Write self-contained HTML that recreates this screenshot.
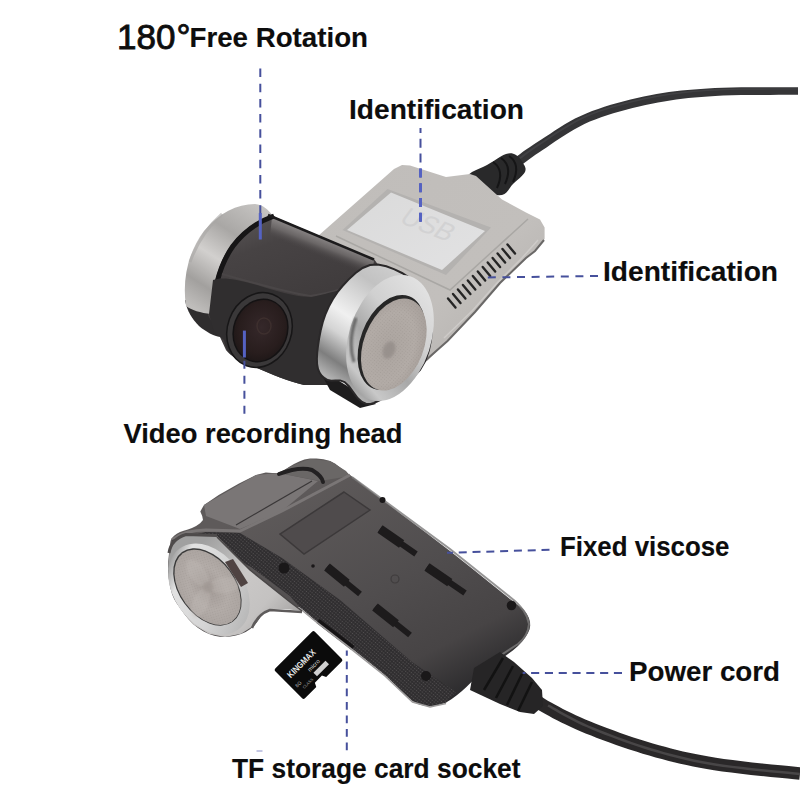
<!DOCTYPE html>
<html><head><meta charset="utf-8">
<style>
html,body{margin:0;padding:0;background:#fff;}
body{width:800px;height:800px;overflow:hidden;position:relative;}
svg{position:absolute;left:0;top:0;}
text{font-family:"Liberation Sans",sans-serif;fill:#0d0d0d;}
</style></head><body>
<svg width="800" height="800" viewBox="0 0 800 800">
<defs>
  <linearGradient id="gSilver" x1="0" y1="0" x2="1" y2="1">
    <stop offset="0" stop-color="#c0bdba"/><stop offset="0.6" stop-color="#c2bfbc"/><stop offset="1" stop-color="#b0adaa"/>
  </linearGradient>
  <linearGradient id="gLabel" x1="0" y1="0" x2="1" y2="1">
    <stop offset="0" stop-color="#dadada"/><stop offset="1" stop-color="#e2e2e3"/>
  </linearGradient>
  <linearGradient id="gChromeL" gradientUnits="userSpaceOnUse" x1="255" y1="205" x2="190" y2="305">
    <stop offset="0" stop-color="#c4c2c0"/><stop offset="0.3" stop-color="#a9a7a5"/><stop offset="0.55" stop-color="#d2d0ce"/><stop offset="0.8" stop-color="#a2a09e"/><stop offset="1" stop-color="#bfbdbb"/>
  </linearGradient>
  <linearGradient id="gBarrel" gradientUnits="userSpaceOnUse" x1="270" y1="215" x2="300" y2="300">
    <stop offset="0" stop-color="#555152"/><stop offset="0.3" stop-color="#474344"/><stop offset="1" stop-color="#403c3d"/>
  </linearGradient>
  <radialGradient id="gLens" cx="0.5" cy="0.45" r="0.6">
    <stop offset="0" stop-color="#35282a"/><stop offset="0.7" stop-color="#281d1d"/><stop offset="1" stop-color="#1c1616"/>
  </radialGradient>
  <linearGradient id="gChromeR" gradientUnits="userSpaceOnUse" x1="400" y1="268" x2="322" y2="382">
    <stop offset="0" stop-color="#cfcfcf"/><stop offset="0.2" stop-color="#c2c2c2"/><stop offset="0.5" stop-color="#f0f0f0"/><stop offset="0.64" stop-color="#d4d4d4"/><stop offset="0.82" stop-color="#7e7e7e"/><stop offset="0.95" stop-color="#b4b4b4"/><stop offset="1" stop-color="#9a9a9a"/>
  </linearGradient>
  <linearGradient id="gBezel" gradientUnits="userSpaceOnUse" x1="420" y1="285" x2="355" y2="395">
    <stop offset="0" stop-color="#e2e2e2"/><stop offset="0.35" stop-color="#d0d0d0"/><stop offset="0.6" stop-color="#a8a8a8"/><stop offset="0.85" stop-color="#c8c8c8"/><stop offset="1" stop-color="#8c8c8c"/>
  </linearGradient>
  <radialGradient id="gDisc" cx="0.45" cy="0.55" r="0.65">
    <stop offset="0" stop-color="#aca5a0"/><stop offset="0.6" stop-color="#b3aca7"/><stop offset="1" stop-color="#a39b96"/>
  </radialGradient>
  <linearGradient id="gLow" gradientUnits="userSpaceOnUse" x1="330" y1="470" x2="450" y2="700">
    <stop offset="0" stop-color="#5e5a5a"/><stop offset="0.5" stop-color="#504d4e"/><stop offset="0.8" stop-color="#474445"/><stop offset="1" stop-color="#2c2b2d"/>
  </linearGradient>
  <linearGradient id="gChromeLow" gradientUnits="userSpaceOnUse" x1="200" y1="545" x2="285" y2="625">
    <stop offset="0" stop-color="#a0a0a0"/><stop offset="0.45" stop-color="#cac8c7"/><stop offset="0.75" stop-color="#c4c2c1"/><stop offset="1" stop-color="#a8a6a5"/>
  </linearGradient>
  <linearGradient id="gBezelLow" gradientUnits="userSpaceOnUse" x1="180" y1="545" x2="235" y2="635">
    <stop offset="0" stop-color="#8a8a8a"/><stop offset="0.2" stop-color="#e2e2e2"/><stop offset="0.6" stop-color="#d4d4d4"/><stop offset="1" stop-color="#b4b4b4"/>
  </linearGradient>
  <radialGradient id="gDiscLow" cx="0.5" cy="0.5" r="0.6">
    <stop offset="0" stop-color="#a19995"/><stop offset="0.5" stop-color="#b3aca8"/><stop offset="1" stop-color="#a9a29e"/>
  </radialGradient>
  <pattern id="dots" width="2.6" height="2.6" patternUnits="userSpaceOnUse" patternTransform="rotate(40)">
    <circle cx="1.3" cy="1.3" r="0.7" fill="#545152"/>
  </pattern>
  <pattern id="brush" width="3" height="3" patternUnits="userSpaceOnUse" patternTransform="rotate(30)">
    <rect width="3" height="1.2" fill="#c8c2bd"/>
  </pattern>
  <filter id="blur2" x="-20%" y="-20%" width="140%" height="140%"><feGaussianBlur stdDeviation="2"/></filter>
  <filter id="blur1" x="-30%" y="-30%" width="160%" height="160%"><feGaussianBlur stdDeviation="1"/></filter>
  <pattern id="mesh" width="2.5" height="2.5" patternUnits="userSpaceOnUse" patternTransform="rotate(20)">
    <circle cx="1.25" cy="1.25" r="0.6" fill="#8d8681"/>
  </pattern>
  <linearGradient id="gBarrelHi" gradientUnits="userSpaceOnUse" x1="325" y1="238" x2="318" y2="256">
    <stop offset="0" stop-color="#8a8686"/><stop offset="0.45" stop-color="#6a6666"/><stop offset="1" stop-color="#474344" stop-opacity="0"/>
  </linearGradient>
</defs>
<path d="M515.0,170.0 L516.5,168.8 L518.5,167.4 L520.7,165.7 L523.2,163.8 L525.9,161.7 L528.9,159.5 L532.0,157.2 L535.4,154.8 L538.9,152.4 L542.6,150.0 L546.5,147.4 L550.7,144.6 L555.0,141.6 L559.6,138.6 L564.3,135.5 L569.1,132.5 L574.1,129.5 L579.2,126.7 L584.4,124.1 L589.8,121.6 L595.3,119.4 L601.1,117.3 L607.1,115.2 L613.3,113.3 L619.7,111.4 L626.1,109.7 L632.6,108.0 L639.1,106.5 L645.5,105.0 L651.8,103.7 L658.0,102.5 L664.1,101.4 L670.1,100.4 L676.2,99.5 L682.2,98.8 L688.4,98.1 L694.7,97.5 L701.3,97.0 L708.1,96.5 L715.2,96.0 L723.1,95.6 L731.8,95.3 L741.2,95.1 L750.8,95.0 L760.5,94.9 L769.9,94.9 L778.6,94.8 L786.4,94.8 L793.0,94.8 L798.0,94.7 L798.0,87.3 L793.0,87.3 L786.4,87.2 L778.6,87.2 L769.9,87.2 L760.5,87.2 L750.8,87.2 L741.1,87.3 L731.6,87.4 L722.8,87.7 L714.8,88.0 L707.6,88.4 L700.7,88.9 L694.0,89.4 L687.6,89.9 L681.3,90.6 L675.1,91.3 L668.9,92.1 L662.7,93.1 L656.5,94.1 L650.2,95.3 L643.7,96.6 L637.1,98.1 L630.5,99.6 L623.9,101.2 L617.3,103.0 L610.8,104.8 L604.4,106.8 L598.2,108.9 L592.1,111.0 L586.2,113.4 L580.6,115.9 L575.0,118.6 L569.6,121.6 L564.4,124.6 L559.3,127.7 L554.5,130.8 L549.9,133.9 L545.5,136.8 L541.3,139.5 L537.4,142.0 L533.6,144.5 L530.0,146.9 L526.5,149.3 L523.2,151.6 L520.1,153.9 L517.3,155.9 L514.7,157.8 L512.5,159.5 L510.6,160.9 L509.0,162.0 Z" fill="#353537"/>
<path d="M515.6,162.8 L517.0,161.8 L518.6,160.5 L520.5,159.0 L522.7,157.4 L525.1,155.5 L527.7,153.6 L530.6,151.5 L533.7,149.3 L537.0,147.1 L540.5,144.8 L544.3,142.3 L548.4,139.6 L552.7,136.6 L557.3,133.6 L562.1,130.5 L567.1,127.4 L572.2,124.4 L577.5,121.5 L582.9,118.7 L588.3,116.3 L594.0,114.0 L599.9,111.8 L606.0,109.8 L612.3,107.8 L618.7,106.0 L625.2,104.2 L631.7,102.6 L638.3,101.0 L644.8,99.6 L651.1,98.2 L657.4,97.0 L663.6,96.0 L669.6,95.0 L675.7,94.2 L681.8,93.4 L688.1,92.7 L694.4,92.1 L701.0,91.6 L707.9,91.1 L715.0,90.7 L722.9,90.3 L731.7,90.0 L741.1,89.8 L750.8,89.7 L760.5,89.7 L769.9,89.6 L778.6,89.6 L786.4,89.6 L793.0,89.6 L798.0,89.6 L798.0,88.4 L793.0,88.4 L786.4,88.4 L778.6,88.4 L769.9,88.4 L760.5,88.4 L750.8,88.4 L741.1,88.5 L731.7,88.7 L722.9,89.0 L715.0,89.3 L707.8,89.8 L700.9,90.2 L694.3,90.7 L687.9,91.3 L681.7,92.0 L675.5,92.7 L669.4,93.5 L663.3,94.5 L657.1,95.6 L650.9,96.8 L644.4,98.1 L637.9,99.5 L631.4,101.0 L624.8,102.7 L618.3,104.4 L611.8,106.3 L605.5,108.2 L599.4,110.3 L593.4,112.5 L587.7,114.7 L582.1,117.2 L576.7,119.9 L571.3,122.9 L566.2,125.9 L561.2,129.0 L556.3,132.1 L551.7,135.1 L547.4,138.1 L543.3,140.8 L539.5,143.2 L535.9,145.5 L532.6,147.8 L529.5,150.0 L526.6,152.1 L523.9,154.0 L521.5,155.8 L519.3,157.5 L517.4,158.9 L515.8,160.2 L514.4,161.2 Z" fill="#4a4a4d" opacity="0.6"/>
<path d="M468.0,176.0 L469.4,174.0 L472.0,172.1 L475.6,170.3 L479.5,168.6 L483.5,166.8 L487.0,165.0 L490.3,163.0 L493.7,160.9 L497.1,158.8 L500.3,156.8 L503.4,155.1 L506.0,154.0 L508.2,153.4 L510.1,153.2 L511.8,153.3 L513.2,153.7 L514.6,154.3 L516.0,155.0 L517.4,155.9 L518.7,157.1 L520.0,158.5 L521.1,160.0 L522.2,161.5 L523.0,163.0 L523.8,164.4 L524.6,165.8 L525.2,167.2 L525.6,168.7 L525.5,170.3 L525.0,172.0 L523.8,173.8 L522.0,175.8 L519.8,177.9 L517.4,180.0 L515.1,182.0 L513.0,184.0 L511.2,186.1 L509.7,188.3 L508.1,190.6 L506.4,192.6 L504.5,194.1 L502.0,195.0 L498.9,195.2 L495.1,194.9 L491.1,194.1 L487.0,192.9 L483.2,191.5 L480.0,190.0 L477.1,188.2 L474.1,185.9 L471.4,183.4 L469.3,180.8 L468.1,178.3 L468.0,176.0 Z" fill="#29292a"/>
<path d="M493,162 Q505,170 497,188" stroke="#151516" stroke-width="2" fill="none"/>
<path d="M501,158 Q513,166 505,184" stroke="#151516" stroke-width="2" fill="none"/>
<path d="M509,156 Q521,164 513,182" stroke="#151516" stroke-width="2" fill="none"/>
<path d="M318.0,236.0 L394.0,169.0 L402.0,165.0 L410.0,165.5 L446.0,177.0 L470.0,174.0 L476.0,176.0 L502.0,199.5 L526.0,212.5 L540.0,219.5 L544.6,227.6 L544.6,239.0 L535.0,251.0 L526.0,258.0 L500.0,283.0 L475.0,312.0 L447.5,341.0 L427.0,361.0 L400.0,368.0 L330.0,300.0 Z" fill="url(#gSilver)"/>
<path d="M544,240 L535,251 L526,258 L500,283 L475,312 L447.5,341 L426,360" stroke="#6a6867" stroke-width="2" fill="none"/>
<path d="M538,240 L522,258 L497,283 L472,311 L444,338" stroke="#d8d6d4" stroke-width="1.5" fill="none" opacity="0.6"/>
<path d="M336,236 L450,290 L528,219" stroke="#a9a7a4" stroke-width="1.5" fill="none"/>
<path d="M387.5,189.0 L491.0,227.5 L446.0,275.0 L342.5,230.0 Z" fill="#b4b2b0"/>
<path d="M391.0,192.5 L485.0,231.0 L442.0,270.0 L347.0,230.0 Z" fill="url(#gLabel)"/>
<text x="0" y="0" transform="translate(398,222) rotate(22) skewX(-15)" style="font-family:'Liberation Sans',sans-serif;font-size:26px;fill:#d2d2d3">USB</text>
<line x1="448.0" y1="298.5" x2="455.5" y2="307.5" stroke="#252525" stroke-width="2.4" stroke-linecap="round"/>
<line x1="453.0" y1="294.0" x2="460.5" y2="303.0" stroke="#252525" stroke-width="2.4" stroke-linecap="round"/>
<line x1="457.9" y1="289.5" x2="465.4" y2="298.5" stroke="#252525" stroke-width="2.4" stroke-linecap="round"/>
<line x1="462.9" y1="285.0" x2="470.4" y2="294.0" stroke="#252525" stroke-width="2.4" stroke-linecap="round"/>
<line x1="467.8" y1="280.5" x2="475.3" y2="289.5" stroke="#252525" stroke-width="2.4" stroke-linecap="round"/>
<line x1="472.8" y1="276.0" x2="480.3" y2="285.0" stroke="#252525" stroke-width="2.4" stroke-linecap="round"/>
<line x1="477.8" y1="271.5" x2="485.2" y2="280.5" stroke="#252525" stroke-width="2.4" stroke-linecap="round"/>
<line x1="482.7" y1="267.0" x2="490.2" y2="276.0" stroke="#252525" stroke-width="2.4" stroke-linecap="round"/>
<line x1="487.7" y1="262.5" x2="495.2" y2="271.5" stroke="#252525" stroke-width="2.4" stroke-linecap="round"/>
<line x1="492.6" y1="258.0" x2="500.1" y2="267.0" stroke="#252525" stroke-width="2.4" stroke-linecap="round"/>
<line x1="497.6" y1="253.5" x2="505.1" y2="262.5" stroke="#252525" stroke-width="2.4" stroke-linecap="round"/>
<line x1="502.5" y1="249.0" x2="510.0" y2="258.0" stroke="#252525" stroke-width="2.4" stroke-linecap="round"/>
<line x1="507.5" y1="244.5" x2="515.0" y2="253.5" stroke="#252525" stroke-width="2.4" stroke-linecap="round"/>
<path d="M185,300 L212,306 L220,337 C214,336 206,332 199,326 C192,319 187,311 185,300 Z" fill="#2f2d2e"/>
<path d="M264,209 L276,217.5 L374,259 L396,290 L330,385 L304,385 C285,381 262,370 240,361 C232,356 227,352 226,350 L220,337 L208,315 C207,290 212,262 232,240 C243,228 252,216 264,209 Z" fill="url(#gBarrel)"/>
<path d="M272,217 L374,259.5 L372,278 L270,236 Z" fill="url(#gBarrelHi)"/>
<path d="M186,306 C182,280 188,252 204,231 C219,213 237,204 255,204 C263,205 268,209 272,215 C255,221 241,232 231,245 C219,262 212,284 211,314 C201,313 191,310 186,306 Z" fill="url(#gChromeL)"/>
<path d="M274,216 C257,222 243,233 233,246 C221,263 214,285 213,314" stroke="#161516" stroke-width="5" fill="none"/>
<path d="M268,215 L374,259.5" stroke="#1c1b1c" stroke-width="2.5" fill="none"/>
<path d="M190,262 C196,245 206,228 222,214" stroke="#a9a7a5" stroke-width="3" fill="none" opacity="0.6"/>
<path d="M222,274 C250,282 285,292 310,296 C325,294 338,290 348,287" stroke="#4a4647" stroke-width="2" fill="none"/>
<path d="M213,280 C222,276 240,280 260,286 C285,294 300,297 312,297 C330,293 340,290 350,287 L330,385 L304,385 C285,381 262,370 240,361 C230,356 226,350 224,340 L214,332 L209,314 Z" fill="#302e2f"/>
<ellipse cx="259.5" cy="330" rx="32" ry="38" transform="rotate(20 259.5 330)" fill="#3a3839" stroke="#171617" stroke-width="1.5"/>
<ellipse cx="260.5" cy="330.5" rx="27.5" ry="32.5" transform="rotate(20 260.5 330.5)" fill="#141213"/>
<ellipse cx="260.5" cy="330.5" rx="26" ry="31" transform="rotate(20 260.5 330.5)" fill="url(#gLens)"/>
<ellipse cx="264" cy="326" rx="7" ry="8" fill="none" stroke="#4a3a36" stroke-width="1.5" opacity="0.5"/>
<path d="M318.0,368.0 L330.0,390.0 L360.0,408.0 L376.0,404.0 L344.0,384.0 Z" fill="#1d1c1d"/>
<path d="M402.0,273.0 L394.5,269.3 L386.3,266.3 L377.9,264.6 L370.0,265.0 L362.6,268.0 L355.3,273.2 L348.5,279.6 L342.5,286.0 L337.3,292.4 L332.8,299.3 L328.8,306.6 L325.5,314.0 L322.8,321.9 L320.7,330.3 L319.1,338.5 L318.0,346.0 L317.2,352.7 L316.9,358.8 L317.1,364.3 L318.0,369.0 L319.6,372.8 L321.7,375.8 L324.5,378.2 L327.6,380.0 L331.3,380.7 L335.6,380.4 L340.1,380.4 L344.6,382.0 L348.9,386.2 L353.2,392.2 L357.6,398.1 L362.0,402.0 L365.9,403.7 L369.6,404.1 L373.9,403.0 L380.0,400.0 L389.1,394.7 L400.4,387.4 L411.5,378.9 L420.0,370.0 L425.4,360.6 L428.9,350.3 L431.0,339.9 L432.0,330.0 L432.0,320.6 L430.7,311.4 L428.3,302.7 L425.0,295.0 L420.6,288.3 L415.1,282.3 L408.8,277.2 L402.0,273.0 Z" fill="url(#gChromeR)" stroke="#2a2829" stroke-width="2"/>
<ellipse cx="390" cy="338" rx="41" ry="65" transform="rotate(18 390 338)" fill="url(#gBezel)"/>
<path d="M356,318 C350,335 350,350 354,362" stroke="#505050" stroke-width="3" fill="none" opacity="0.8" filter="url(#blur1)"/>
<ellipse cx="391.5" cy="342.5" rx="31" ry="49.5" transform="rotate(21 391.5 342.5)" fill="#262626"/>
<ellipse cx="393.8" cy="344.5" rx="30" ry="48" transform="rotate(21 393.8 344.5)" fill="url(#gDisc)"/>
<ellipse cx="393.8" cy="344.5" rx="30" ry="48" transform="rotate(21 393.8 344.5)" fill="url(#mesh)" opacity="0.35"/>
<ellipse cx="389" cy="350" rx="6" ry="9" transform="rotate(21 389 350)" fill="#948d89" opacity="0.8" filter="url(#blur1)"/>
<path d="M516.2,694.3 L517.5,695.2 L519.2,696.5 L521.1,698.0 L523.4,699.7 L526.0,701.6 L528.7,703.7 L531.7,705.8 L534.9,707.9 L538.3,710.0 L541.8,712.1 L545.4,714.1 L549.1,716.1 L552.9,718.2 L557.0,720.3 L561.3,722.5 L565.7,724.6 L570.4,726.8 L575.2,729.0 L580.3,731.2 L585.6,733.4 L591.1,735.6 L597.0,737.9 L603.2,740.2 L609.5,742.6 L616.1,744.9 L622.7,747.2 L629.4,749.5 L636.1,751.6 L642.7,753.7 L649.2,755.6 L655.6,757.4 L661.8,759.1 L667.9,760.7 L674.0,762.2 L680.2,763.7 L686.5,765.1 L693.0,766.4 L699.7,767.7 L706.7,769.0 L714.0,770.2 L722.2,771.4 L731.2,772.6 L740.9,773.8 L750.9,774.9 L760.9,775.9 L770.5,776.9 L779.5,777.7 L787.5,778.5 L794.2,779.2 L799.3,779.7 L800.7,767.3 L795.5,766.7 L788.7,766.1 L780.7,765.3 L771.7,764.4 L762.1,763.4 L752.2,762.4 L742.4,761.3 L732.8,760.1 L723.9,759.0 L716.0,757.8 L708.8,756.6 L702.0,755.3 L695.5,754.1 L689.2,752.7 L683.0,751.4 L677.0,749.9 L671.0,748.4 L665.0,746.8 L659.0,745.2 L652.8,743.4 L646.4,741.5 L639.9,739.5 L633.4,737.4 L626.8,735.2 L620.3,732.9 L613.9,730.6 L607.6,728.3 L601.6,726.0 L595.8,723.7 L590.4,721.6 L585.3,719.4 L580.4,717.3 L575.8,715.2 L571.3,713.1 L567.0,711.0 L562.9,708.9 L559.0,706.8 L555.2,704.8 L551.6,702.8 L548.2,700.9 L545.0,699.0 L542.0,697.1 L539.1,695.1 L536.3,693.2 L533.7,691.2 L531.3,689.4 L529.0,687.7 L527.1,686.2 L525.3,684.8 L523.8,683.7 Z" fill="#2a2829"/>
<path d="M547.4,706.6 L549.7,707.8 L552.5,709.4 L555.7,711.3 L559.4,713.4 L563.5,715.7 L567.8,718.0 L572.5,720.5 L577.3,723.0 L582.4,725.4 L587.5,727.6 L592.9,729.9 L598.6,732.3 L604.7,734.7 L611.1,737.1 L617.6,739.5 L624.2,742.0 L630.9,744.3 L637.6,746.6 L644.2,748.7 L650.6,750.7 L656.9,752.5 L663.1,754.3 L669.1,756.0 L675.2,757.6 L681.3,759.1 L687.6,760.5 L694.0,761.9 L700.6,763.2 L707.5,764.5 L714.8,765.7 L722.9,767.0 L731.9,768.1 L741.5,769.3 L751.4,770.4 L761.4,771.4 L771.0,772.4 L780.0,773.3 L788.0,774.0 L794.7,774.7 L799.9,775.2 L800.1,772.8 L795.0,772.2 L788.2,771.6 L780.2,770.8 L771.2,769.9 L761.6,768.9 L751.7,767.9 L741.8,766.8 L732.2,765.7 L723.2,764.5 L715.2,763.3 L708.0,762.0 L701.1,760.8 L694.5,759.4 L688.1,758.1 L681.9,756.6 L675.8,755.1 L669.8,753.6 L663.7,751.9 L657.6,750.1 L651.4,748.3 L644.9,746.3 L638.4,744.2 L631.7,741.9 L625.0,739.6 L618.4,737.2 L611.9,734.8 L605.6,732.3 L599.6,729.9 L593.8,727.6 L588.5,725.4 L583.4,723.1 L578.4,720.7 L573.6,718.3 L569.0,715.8 L564.7,713.5 L560.6,711.2 L557.0,709.1 L553.7,707.2 L550.9,705.6 L548.6,704.4 Z" fill="#555354" opacity="0.7"/>
<path d="M170.0,546.0 L169.1,552.8 L168.2,561.4 L168.0,570.0 L168.7,578.4 L170.1,586.7 L172.0,594.0 L174.2,599.3 L176.8,603.6 L180.0,608.0 L183.9,613.4 L188.3,619.0 L193.0,624.0 L198.1,628.0 L203.6,631.4 L209.0,634.0 L214.3,635.7 L219.7,636.7 L225.0,637.0 L230.4,636.6 L235.9,635.6 L241.0,634.0 L245.7,631.9 L250.0,629.2 L254.0,626.0 L257.4,621.7 L260.6,616.9 L264.0,613.0 L267.7,610.6 L271.8,609.0 L277.0,608.0 L284.2,607.0 L292.6,606.5 L300.0,607.5 L304.9,610.2 L308.8,614.3 L315.0,620.0 L325.2,627.9 L337.6,637.4 L350.0,647.0 L361.9,656.3 L373.9,665.8 L385.0,675.0 L395.1,684.6 L404.4,694.0 L412.5,701.0 L419.1,704.5 L424.6,705.7 L430.0,706.0 L435.4,705.8 L440.7,704.6 L446.0,702.5 L451.4,699.3 L456.8,695.2 L462.0,691.0 L466.4,687.0 L470.7,682.8 L476.0,678.0 L483.5,672.2 L492.1,665.9 L500.0,660.0 L506.7,655.0 L512.8,650.4 L518.0,646.0 L522.2,641.5 L525.6,637.1 L528.0,633.0 L529.6,629.2 L530.2,625.7 L530.0,622.0 L528.9,618.0 L526.9,614.0 L524.0,610.0 L521.6,607.6 L518.4,605.4 L510.0,599.0 L493.8,585.9 L472.4,568.7 L450.0,551.0 L426.1,532.7 L401.0,513.9 L380.0,498.0 L365.3,486.8 L354.7,478.6 L346.0,472.0 L339.5,466.9 L335.0,463.5 L330.0,461.0 L323.5,459.2 L316.5,458.4 L310.0,458.5 L304.4,459.6 L299.2,461.6 L294.0,464.0 L288.9,467.0 L283.8,470.4 L278.0,473.0 L272.2,473.1 L265.8,472.5 L256.0,475.0 L239.0,483.5 L218.7,495.1 L204.0,505.0 L200.3,511.4 L202.2,516.1 L203.0,520.0 L200.1,523.3 L196.1,525.9 L192.0,528.0 L187.9,529.6 L183.7,530.7 L180.0,532.0 L176.8,533.8 L174.1,535.8 L172.0,538.0 L170.9,539.9 L170.4,542.1 L170.0,546.0 Z" fill="url(#gLow)"/>
<path d="M352,477 L450,549 L510,597 Q527,610 529,624 Q528,636 518,644 L498,657" stroke="#7c7a7a" stroke-width="2" fill="none" opacity="0.8"/>
<path d="M204.0,505.0 L256.0,475.0 L279.0,473.0 L318.0,481.0 L282.0,511.0 L240.0,529.0 L206.0,516.0 Z" fill="#7a7676"/>
<path d="M278.0,473.0 L294.0,465.0 L310.0,459.0 L330.0,461.0 L346.0,471.0 L350.0,476.0 L320.0,481.0 Z" fill="#6a6766"/>
<path d="M279,474 Q300,466 312,470 Q322,476 323,482" stroke="#232122" stroke-width="4" fill="none" stroke-linecap="round"/>
<path d="M236,525 L312,481" stroke="#3a3738" stroke-width="1.2" fill="none"/>
<path d="M172,540 Q185,530 206,530 L240,531 L282,511 L350,475" stroke="#7a7676" stroke-width="3" fill="none"/>
<path d="M344.0,492.0 L370.0,510.0 L304.0,554.0 L280.0,534.0 Z" fill="#4f4b4c" stroke="#3c393a" stroke-width="1.5"/>
<path d="M172.0,540.0 L206.0,532.0 L240.0,533.0 L282.0,558.0 L340.0,600.0 L412.0,662.0 L456.0,692.0 L446.0,702.5 L430.0,706.0 L412.5,701.0 L385.0,675.0 L350.0,647.0 L315.0,620.0 L300.0,607.5 L290.0,596.0 L251.0,567.0 L213.6,547.6 L176.0,553.0 Z" fill="#2f2d2f"/>
<path d="M172.0,540.0 L206.0,532.0 L240.0,533.0 L282.0,558.0 L340.0,600.0 L412.0,662.0 L456.0,692.0 L446.0,702.5 L430.0,706.0 L412.5,701.0 L385.0,675.0 L350.0,647.0 L315.0,620.0 L300.0,607.5 L290.0,596.0 L251.0,567.0 L213.6,547.6 L176.0,553.0 Z" fill="url(#dots)"/>
<line x1="380" y1="529" x2="416" y2="554" stroke="#1d1b1c" stroke-width="6" stroke-linecap="butt"/>
<line x1="380" y1="529" x2="401.6" y2="544.0" stroke="#1d1b1c" stroke-width="9" stroke-linecap="butt"/>
<line x1="427" y1="567" x2="465" y2="593" stroke="#1d1b1c" stroke-width="6" stroke-linecap="butt"/>
<line x1="427" y1="567" x2="449.8" y2="582.6" stroke="#1d1b1c" stroke-width="9" stroke-linecap="butt"/>
<line x1="375" y1="607" x2="410" y2="635" stroke="#1d1b1c" stroke-width="6" stroke-linecap="butt"/>
<line x1="375" y1="607" x2="396.0" y2="623.8" stroke="#1d1b1c" stroke-width="9" stroke-linecap="butt"/>
<line x1="327" y1="567" x2="360" y2="594" stroke="#1d1b1c" stroke-width="6" stroke-linecap="butt"/>
<line x1="327" y1="567" x2="346.8" y2="583.2" stroke="#1d1b1c" stroke-width="9" stroke-linecap="butt"/>
<circle cx="395" cy="579" r="4" fill="none" stroke="#3f3c3d" stroke-width="1.2"/>
<circle cx="382.5" cy="500" r="3" fill="#1a1819"/>
<circle cx="511.5" cy="605.5" r="4.8" fill="#1a1819"/>
<circle cx="426" cy="676" r="5" fill="#1a1819"/>
<circle cx="284" cy="568" r="5.5" fill="#1a1819"/>
<circle cx="313" cy="566" r="1.8" fill="#1a1819"/>
<line x1="318" y1="621" x2="353" y2="648" stroke="#161415" stroke-width="5"/>
<path d="M290,608 L300,608.5 L315,621 L350,648 L385,676 L412.5,702 L430,707 L446,703.5" stroke="#9c9a9a" stroke-width="1.6" fill="none"/>
<path d="M169.8,549.0 L176.0,538.0 L186.0,534.6 L217.0,536.0 L250.0,570.0 L290.0,602.0 L302.0,611.0 L285.0,609.0 L270.0,609.0 L262.0,614.0 L254.0,625.6 L241.0,633.8 L225.0,637.0 L208.8,633.8 L192.5,624.0 L179.5,607.7 L171.4,588.0 L168.0,569.0 Z" fill="url(#gChromeLow)"/>
<path d="M252,628 Q258,614 270,610 L302,612" stroke="#5e5b5b" stroke-width="2.5" fill="none"/>
<path d="M217,537 L250,570 L290,602 L302,611" stroke="#4a4747" stroke-width="1.5" fill="none"/>
<ellipse cx="209" cy="589" rx="35" ry="50" transform="rotate(-36 209 589)" fill="url(#gBezelLow)"/>
<ellipse cx="207.4" cy="586.9" rx="28.4" ry="43.2" transform="rotate(-36 207.4 586.9)" fill="#3a3a3a"/>
<ellipse cx="207.6" cy="587.3" rx="27.3" ry="42" transform="rotate(-36 207.6 587.3)" fill="url(#gDiscLow)"/>
<ellipse cx="207.6" cy="587.3" rx="27.3" ry="42" transform="rotate(-36 207.6 587.3)" fill="url(#mesh)" opacity="0.3"/>
<ellipse cx="207.5" cy="570" rx="8" ry="16" transform="rotate(-36 207.5 587)" fill="#c2bcb8" opacity="0.35" filter="url(#blur1)"/>
<ellipse cx="207.5" cy="570" rx="8" ry="16" transform="rotate(84 207.5 587)" fill="#c2bcb8" opacity="0.35" filter="url(#blur1)"/>
<ellipse cx="207.5" cy="570" rx="8" ry="16" transform="rotate(204 207.5 587)" fill="#c2bcb8" opacity="0.35" filter="url(#blur1)"/>
<circle cx="208" cy="587" r="5.5" fill="#9d9591" opacity="0.6" filter="url(#blur1)"/>
<path d="M169,553 Q171,539 186,534.5 L217,535.5" stroke="#4e4b4b" stroke-width="3" fill="none"/>
<path d="M225.0,562.0 L233.0,559.0 L248.0,583.0 L241.0,587.0 Z" fill="#4f4342"/>
<g transform="translate(308.5,665) rotate(-45)"><path d="M-26,-21 L26,-21 Q28,-21 28,-19 L28,19 Q28,21 26,21 L4,21 L2,17 L-8,17 L-10,21 L-26,21 Q-28,21 -28,19 L-28,-19 Q-28,-21 -26,-21 Z" fill="#0b0b0b"/><text x="-22" y="-3" style="font-family:'Liberation Sans',sans-serif;fill:#e6e6e6;font-weight:bold;font-size:9px" textLength="36" lengthAdjust="spacingAndGlyphs">KINGMAX</text><text x="-4" y="6" style="font-family:'Liberation Sans',sans-serif;fill:#d0d0d0;font-size:6px">micro</text><rect x="-2" y="9" width="17" height="5" fill="#d0d0d0"/><text x="-24" y="8" style="font-family:'Liberation Sans',sans-serif;fill:#b0b0b0;font-size:5px">8G</text><text x="-20" y="14" style="font-family:'Liberation Sans',sans-serif;fill:#a0a0a0;font-size:4px">CLASS</text></g>
<path d="M474.0,668.0 L500.0,652.0 L514.0,662.0 L532.0,678.0 L542.0,690.0 L543.0,706.0 L534.0,714.0 L520.0,712.0 L500.0,704.0 L470.0,690.0 Z" fill="#262526"/>
<line x1="503" y1="658" x2="484" y2="690" stroke="#121212" stroke-width="2.5"/>
<line x1="513" y1="666" x2="496" y2="698" stroke="#121212" stroke-width="2.5"/>
<line x1="522" y1="674" x2="507" y2="705" stroke="#121212" stroke-width="2.5"/>
<line x1="532" y1="682" x2="518" y2="711" stroke="#121212" stroke-width="2.5"/>
<g stroke="#46509c" stroke-width="2" fill="none">
  <line x1="260.3" y1="68.5" x2="260.3" y2="239" stroke-dasharray="8.5 6.7"/>
  <line x1="420.5" y1="221.8" x2="420.5" y2="128" stroke-dasharray="9 5.8"/>
  <line x1="598" y1="276" x2="486" y2="277.5" stroke-dasharray="8 6.6"/>
  <line x1="244.4" y1="413.8" x2="244.4" y2="357" stroke-dasharray="8.1 6.9"/>
  <line x1="549.5" y1="549.8" x2="447" y2="552.8" stroke-dasharray="8 5.8"/>
  <line x1="622" y1="672.9" x2="522.7" y2="672.9" stroke-dasharray="8.1 5.7"/>
  <line x1="346.8" y1="750.2" x2="346.8" y2="650.5" stroke-dasharray="7.8 5.7"/>
</g>
<g stroke="#5562c2" stroke-width="3" fill="none">
  <line x1="260.3" y1="213" x2="260.3" y2="239.5"/>
  <line x1="420.5" y1="221.8" x2="420.5" y2="168" stroke-dasharray="9 5.8"/>
  <line x1="244.4" y1="330.6" x2="244.4" y2="357.5"/>
</g>
<line x1="256.5" y1="751" x2="262.5" y2="751" stroke="#8a90c8" stroke-width="1"/>
<text x="117 136.5 156 176.5" y="49" font-size="35" stroke="#111" stroke-width="0.9">180°</text>
<g font-weight="bold" font-size="27" stroke="#111" stroke-width="0.15">
<text x="189.5" y="47" textLength="178.5" lengthAdjust="spacingAndGlyphs">Free Rotation</text>
<text x="349" y="118.5" textLength="175" lengthAdjust="spacingAndGlyphs">Identification</text>
<text x="603" y="280.5" textLength="175" lengthAdjust="spacingAndGlyphs">Identification</text>
<text x="123.5" y="442.5" textLength="279" lengthAdjust="spacingAndGlyphs">Video recording head</text>
<text x="560" y="555.5" textLength="169.5" lengthAdjust="spacingAndGlyphs">Fixed viscose</text>
<text x="629" y="680.5" textLength="151" lengthAdjust="spacingAndGlyphs">Power cord</text>
<text x="232" y="777.5" textLength="288.5" lengthAdjust="spacingAndGlyphs">TF storage card socket</text>
</g>
</svg>
</body></html>
